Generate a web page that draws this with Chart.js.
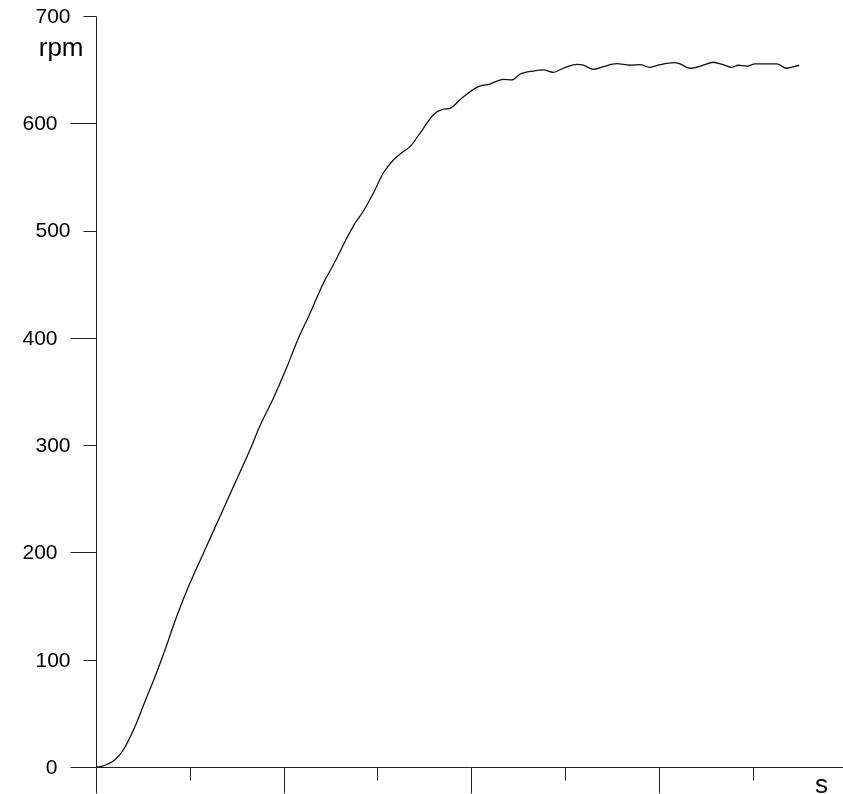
<!DOCTYPE html>
<html>
<head>
<meta charset="utf-8">
<script src="https://cdn.jsdelivr.net/npm/chart.js@4"></script>
<style>
  html, body { margin: 0; padding: 0; background: #fff; }
  #wrap { width: 843px; height: 794px; }
</style>
</head>
<body>
<div id="wrap"><canvas id="myChart" width="843" height="794"></canvas></div>
<script>
// time (s) and speed (rpm)
const timeSec = [0, 0.030, 0.101, 0.146, 0.208, 0.261, 0.315, 0.368, 0.430, 0.501, 0.581, 0.661, 0.741, 0.821,
  0.874, 0.945, 1.017, 1.070, 1.141, 1.212, 1.283, 1.318, 1.381, 1.425, 1.478, 1.531, 1.585, 1.630, 1.674,
  1.727, 1.798, 1.851, 1.887, 1.949, 2.038, 2.100, 2.171, 2.216, 2.260, 2.331, 2.384, 2.438, 2.491, 2.562,
  2.598, 2.651, 2.704, 2.776, 2.846, 2.900, 2.953, 3.006, 3.086, 3.113, 3.166, 3.237, 3.290, 3.344, 3.389,
  3.424, 3.469, 3.513, 3.628, 3.682, 3.749];
const rpm = [0, 0.6, 6.8, 16.1, 37.8, 61.1, 84.4, 109.3, 140.3, 171.4, 202.5, 233.5, 264.6, 295.6,
  318.0, 343.5, 372.5, 396.0, 423.0, 450.9, 474.0, 486.5, 506.9, 518.0, 534.8, 553.4, 565.8, 572.6, 578.2,
  590.7, 607.8, 613.1, 614.0, 623.3, 634.1, 636.6, 641.0, 640.4, 645.7, 648.7, 649.7, 647.5, 651.3, 655.0,
  654.3, 650.3, 652.8, 655.6, 654.1, 654.6, 652.2, 654.6, 656.5, 655.3, 651.3, 654.1, 656.9, 654.6, 652.2,
  654.1, 653.2, 655.3, 655.3, 651.3, 654.1];

const yTicks = [0, 100, 200, 300, 400, 500, 600, 700];
const xMajorTicks = [0, 1, 2, 3];
const xMinorTicks = [0.5, 1.5, 2.5, 3.5];
const yUnit = 'rpm';
const xUnit = 's';

const points = timeSec.map((t, i) => ({ x: t, y: rpm[i] }));

// hand-drawn axes: alternating long/short ticks like the original plot
const axesPlugin = {
  id: 'axes',
  afterDraw(chart) {
    const ctx = chart.ctx;
    const xs = chart.scales.x;
    const ys = chart.scales.y;
    const x0 = Math.round(xs.getPixelForValue(0)) + 0.5;
    const y0 = Math.round(ys.getPixelForValue(0)) + 0.5;
    const yTop = Math.round(ys.getPixelForValue(700)) + 0.5;

    ctx.save();
    ctx.strokeStyle = '#222';
    ctx.lineWidth = 1;
    ctx.beginPath();
    ctx.moveTo(x0, yTop);
    ctx.lineTo(x0, y0);
    ctx.moveTo(x0, y0);
    ctx.lineTo(chart.width, y0);

    yTicks.forEach(v => {
      const py = Math.round(ys.getPixelForValue(v)) + 0.5;
      const len = v % 200 === 0 ? 26 : 13;
      ctx.moveTo(x0 - len, py);
      ctx.lineTo(x0, py);
    });
    xMajorTicks.forEach(v => {
      const px = Math.round(xs.getPixelForValue(v)) + 0.5;
      ctx.moveTo(px, y0);
      ctx.lineTo(px, y0 + 26);
    });
    xMinorTicks.forEach(v => {
      const px = Math.round(xs.getPixelForValue(v)) + 0.5;
      ctx.moveTo(px, y0);
      ctx.lineTo(px, y0 + 13);
    });
    ctx.stroke();

    ctx.fillStyle = '#000';
    ctx.font = '21px "Liberation Sans", Arial, sans-serif';
    ctx.textAlign = 'right';
    ctx.textBaseline = 'middle';
    yTicks.forEach(v => {
      const py = ys.getPixelForValue(v);
      const len = v % 200 === 0 ? 26 : 13;
      ctx.fillText(String(v), x0 - len - 13, py + 1);
    });

    ctx.font = '26px "Liberation Sans", Arial, sans-serif';
    ctx.textBaseline = 'alphabetic';
    ctx.fillText(yUnit, x0 - 13, yTop + 39);
    ctx.textAlign = 'left';
    ctx.fillText(xUnit, 815, y0 + 25);
    ctx.restore();
  }
};

const ctx = document.getElementById('myChart');
const myChart = new Chart(ctx, {
  type: 'line',
  data: {
    datasets: [{
      data: points,
      borderColor: '#111',
      borderWidth: 1.3,
      pointRadius: 0,
      fill: false,
      cubicInterpolationMode: 'monotone'
    }]
  },
  options: {
    responsive: false,
    animation: false,
    layout: {
      padding: { left: 96, right: 0, top: 16, bottom: 27 }
    },
    plugins: {
      legend: { display: false },
      tooltip: { enabled: false }
    },
    scales: {
      x: {
        type: 'linear',
        min: 0,
        max: 3.982,
        display: false
      },
      y: {
        min: 0,
        max: 700,
        display: false
      }
    }
  },
  plugins: [axesPlugin]
});
</script>
</body>
</html>
